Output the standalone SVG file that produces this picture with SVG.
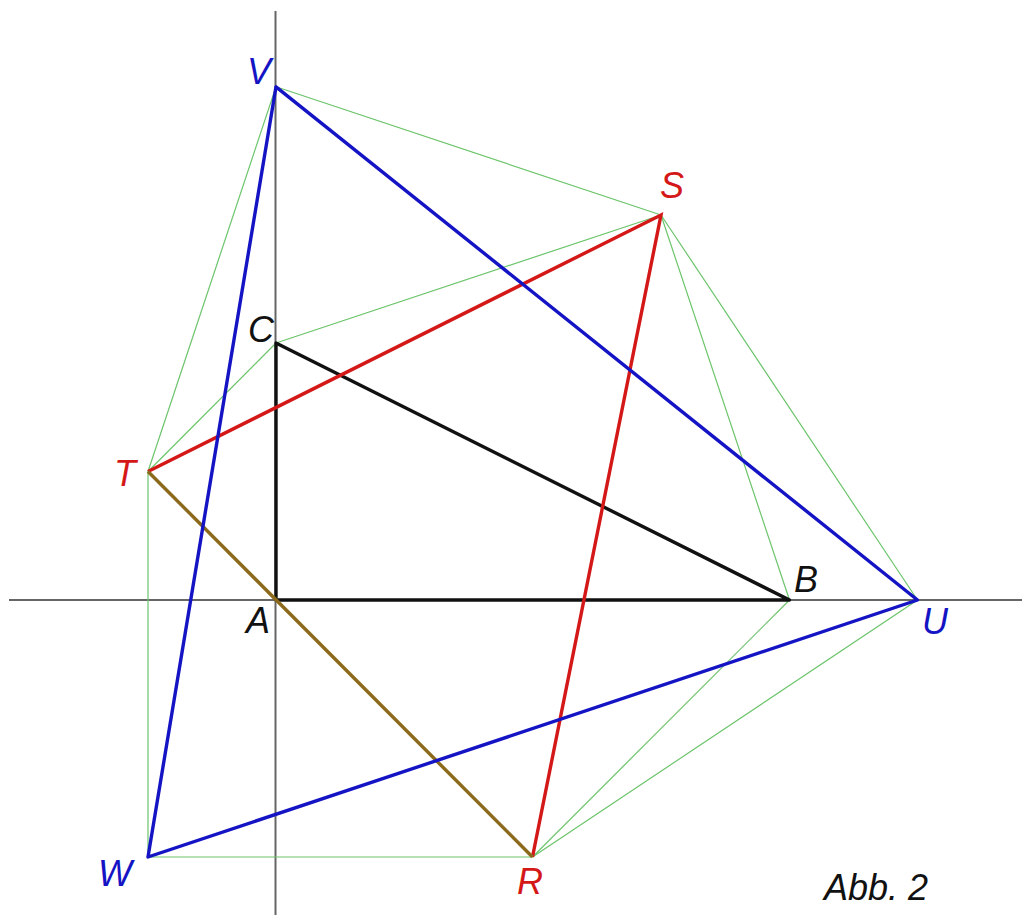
<svg xmlns="http://www.w3.org/2000/svg" width="1022" height="915" viewBox="0 0 1022 915">
<style>
.axis{stroke:#666;stroke-width:2;fill:none}
.g{stroke:#6cc46c;stroke-width:1.2;fill:none}
.k{stroke:#111;stroke-width:3.4;fill:none;stroke-linejoin:round}
.r{stroke:#d41818;stroke-width:3.4;fill:none}
.b{stroke:#1414c4;stroke-width:3.4;fill:none;stroke-linejoin:round}
.br{stroke:#8c6a1c;stroke-width:3.4;fill:none}
text{font-family:"Liberation Sans",Arial,sans-serif;font-style:italic;font-size:36px}
.lk{fill:#111}.lr{fill:#d41818}.lb{fill:#1414c4}
</style>
<rect width="1022" height="915" fill="#fff"/>
<g id="axes">
<line class="axis" x1="275.5" y1="11" x2="275.5" y2="915"/>
<line class="axis" x1="9" y1="600" x2="1022" y2="600"/>
</g>
<g id="connectors">
<g id="green-lines">
<line class="g" x1="276" y1="86.8" x2="661" y2="215"/>
<line class="g" x1="276" y1="86.8" x2="148" y2="471.5"/>
<line class="g" x1="661" y1="215" x2="276" y2="343"/>
<line class="g" x1="276" y1="343" x2="148" y2="471.5"/>
<line class="g" x1="661" y1="215" x2="789.5" y2="600"/>
<line class="g" x1="661" y1="215" x2="917.5" y2="600"/>
<line class="g" x1="148" y1="471.5" x2="148" y2="857"/>
<line class="g" x1="148" y1="857" x2="532.5" y2="857"/>
<line class="g" x1="532.5" y1="857" x2="789.5" y2="600"/>
<line class="g" x1="532.5" y1="857" x2="917.5" y2="600"/>
</g>
<polygon id="triangle-ABC" class="k" points="276,600 789.5,600 276,343"/>
<polyline id="red-TSR" class="r" points="148,471.5 661,215 532.5,857"/>
<line id="brown-TR" class="br" x1="148" y1="471.5" x2="532.5" y2="857"/>
<polygon id="blue-UVW" class="b" points="917.5,600 276,86.8 148,857"/>
</g>
<g id="node-A"><text class="lk" x="246" y="633">A</text></g>
<g id="node-B"><text class="lk" x="794" y="592">B</text></g>
<g id="node-C"><text class="lk" x="248" y="342">C</text></g>
<g id="node-R"><text class="lr" x="517" y="894">R</text></g>
<g id="node-S"><text class="lr" x="660" y="198">S</text></g>
<g id="node-T"><text class="lr" x="114" y="486">T</text></g>
<g id="node-U"><text class="lb" x="922" y="634">U</text></g>
<g id="node-V"><text class="lb" x="247" y="84">V</text></g>
<g id="node-W"><text class="lb" x="98" y="886">W</text></g>
<g id="caption"><text class="lk" x="824" y="900" style="font-size:36px">Abb. 2</text></g>
</svg>
